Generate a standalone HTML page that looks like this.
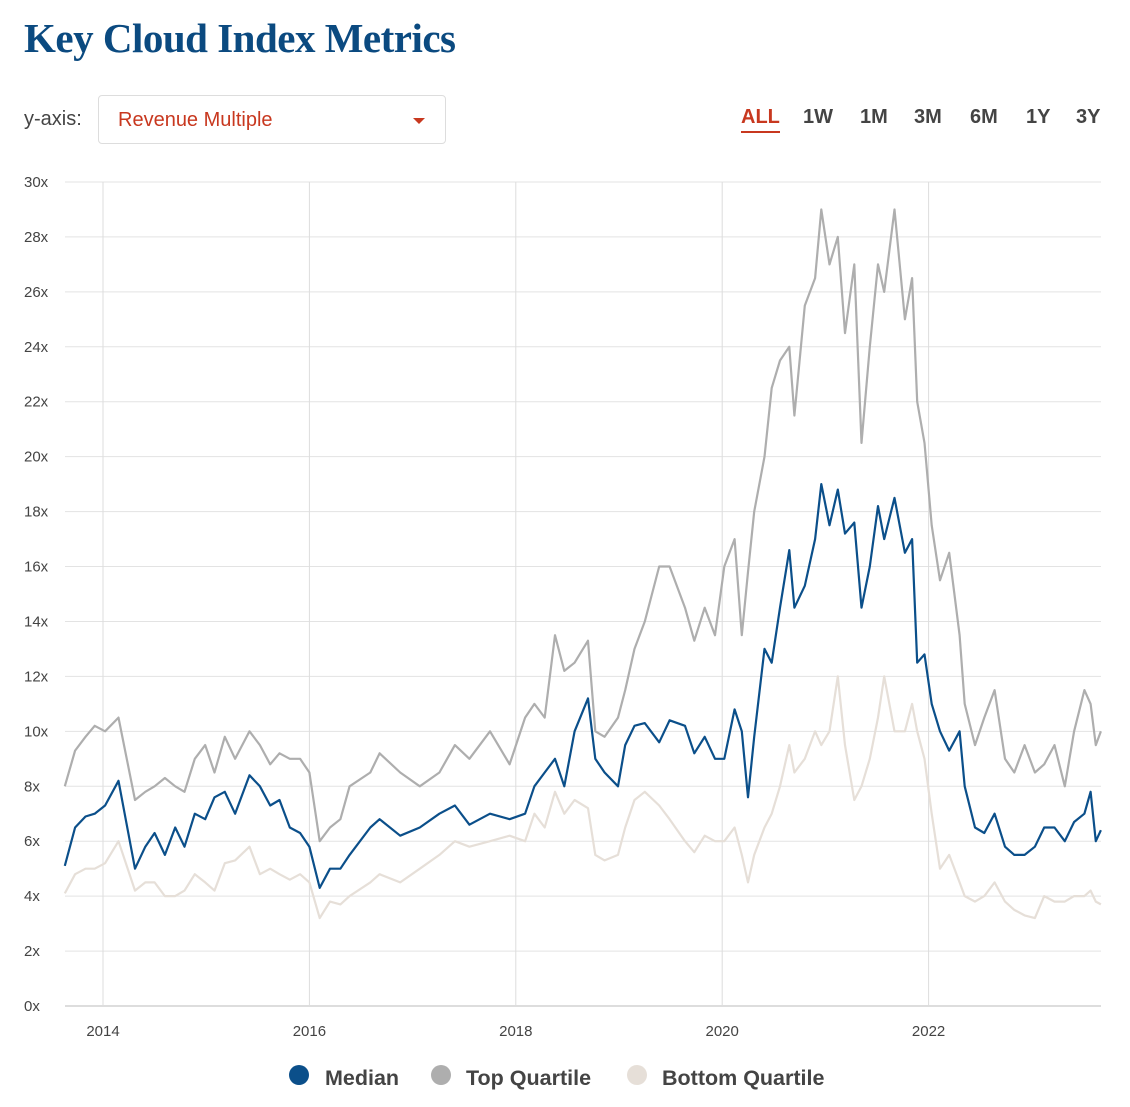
<!DOCTYPE html>
<html><head><meta charset="utf-8"><style>
body{margin:0;background:#fff;width:1130px;height:1107px;overflow:hidden;font-family:"Liberation Sans",sans-serif}
.title{position:absolute;left:24px;top:14px;font-family:"Liberation Serif",serif;font-weight:bold;font-size:41px;color:#0b4a80;letter-spacing:-0.5px}
.yl{position:absolute;left:24px;top:108px;font-size:20px;color:#444}
.dd{position:absolute;left:98px;top:95px;width:348px;height:49px;border:1px solid #ddd;border-radius:4px;box-sizing:border-box}
.dd span{position:absolute;left:19px;top:13px;font-size:20px;color:#c8381f}
.dd i{position:absolute;right:20px;top:22px;border-left:6px solid transparent;border-right:6px solid transparent;border-top:6px solid #c8381f}
.tb{position:absolute;top:106px;font-size:20px;color:#444;font-weight:600}
</style></head><body>
<div class="title">Key Cloud Index Metrics</div>
<div class="yl">y-axis:</div>
<div class="dd"><span>Revenue Multiple</span><i></i></div>
<div class="tb" style="left:741px;color:#c8381f;border-bottom:2px solid #c8381f;padding-bottom:2px">ALL</div>
<div class="tb" style="left:803px">1W</div>
<div class="tb" style="left:860px">1M</div>
<div class="tb" style="left:914px">3M</div>
<div class="tb" style="left:970px">6M</div>
<div class="tb" style="left:1026px">1Y</div>
<div class="tb" style="left:1076px">3Y</div>
<svg id="c" width="1130" height="1107" style="position:absolute;left:0;top:0"></svg>
<script>
const dates=[2013.63,2013.73,2013.83,2013.92,2014.02,2014.15,2014.31,2014.41,2014.5,2014.6,2014.7,2014.79,2014.89,2014.99,2015.08,2015.18,2015.28,2015.42,2015.52,2015.62,2015.71,2015.81,2015.91,2016.0,2016.1,2016.2,2016.3,2016.39,2016.59,2016.68,2016.88,2017.07,2017.26,2017.41,2017.55,2017.75,2017.94,2018.09,2018.18,2018.28,2018.38,2018.47,2018.57,2018.7,2018.77,2018.86,2018.99,2019.06,2019.15,2019.25,2019.39,2019.49,2019.64,2019.73,2019.83,2019.93,2020.02,2020.12,2020.19,2020.25,2020.31,2020.41,2020.48,2020.56,2020.65,2020.7,2020.8,2020.9,2020.96,2021.04,2021.12,2021.19,2021.28,2021.35,2021.43,2021.51,2021.57,2021.67,2021.77,2021.84,2021.89,2021.96,2022.03,2022.11,2022.2,2022.3,2022.35,2022.45,2022.54,2022.64,2022.74,2022.83,2022.93,2023.03,2023.12,2023.22,2023.32,2023.41,2023.51,2023.57,2023.62,2023.67];
const median=[5.1,6.5,6.9,7.0,7.3,8.2,5.0,5.8,6.3,5.5,6.5,5.8,7.0,6.8,7.6,7.8,7.0,8.4,8.0,7.3,7.5,6.5,6.3,5.8,4.3,5.0,5.0,5.5,6.5,6.8,6.2,6.5,7.0,7.3,6.6,7.0,6.8,7.0,8.0,8.5,9.0,8.0,10.0,11.2,9.0,8.5,8.0,9.5,10.2,10.3,9.6,10.4,10.2,9.2,9.8,9.0,9.0,10.8,10.0,7.6,9.8,13.0,12.5,14.5,16.6,14.5,15.3,17.0,19.0,17.5,18.8,17.2,17.6,14.5,16.0,18.2,17.0,18.5,16.5,17.0,12.5,12.8,11.0,10.0,9.3,10.0,8.0,6.5,6.3,7.0,5.8,5.5,5.5,5.8,6.5,6.5,6.0,6.7,7.0,7.8,6.0,6.4];
const topQ=[8.0,9.3,9.8,10.2,10.0,10.5,7.5,7.8,8.0,8.3,8.0,7.8,9.0,9.5,8.5,9.8,9.0,10.0,9.5,8.8,9.2,9.0,9.0,8.5,6.0,6.5,6.8,8.0,8.5,9.2,8.5,8.0,8.5,9.5,9.0,10.0,8.8,10.5,11.0,10.5,13.5,12.2,12.5,13.3,10.0,9.8,10.5,11.5,13.0,14.0,16.0,16.0,14.5,13.3,14.5,13.5,16.0,17.0,13.5,15.8,18.0,20.0,22.5,23.5,24.0,21.5,25.5,26.5,29.0,27.0,28.0,24.5,27.0,20.5,24.0,27.0,26.0,29.0,25.0,26.5,22.0,20.5,17.5,15.5,16.5,13.5,11.0,9.5,10.5,11.5,9.0,8.5,9.5,8.5,8.8,9.5,8.0,10.0,11.5,11.0,9.5,10.0];
const bottomQ=[4.1,4.8,5.0,5.0,5.2,6.0,4.2,4.5,4.5,4.0,4.0,4.2,4.8,4.5,4.2,5.2,5.3,5.8,4.8,5.0,4.8,4.6,4.8,4.5,3.2,3.8,3.7,4.0,4.5,4.8,4.5,5.0,5.5,6.0,5.8,6.0,6.2,6.0,7.0,6.5,7.8,7.0,7.5,7.2,5.5,5.3,5.5,6.5,7.5,7.8,7.3,6.8,6.0,5.6,6.2,6.0,6.0,6.5,5.5,4.5,5.5,6.5,7.0,8.0,9.5,8.5,9.0,10.0,9.5,10.0,12.0,9.5,7.5,8.0,9.0,10.5,12.0,10.0,10.0,11.0,10.0,9.0,7.0,5.0,5.5,4.5,4.0,3.8,4.0,4.5,3.8,3.5,3.3,3.2,4.0,3.8,3.8,4.0,4.0,4.2,3.8,3.7];
const yTicks=[0,2,4,6,8,10,12,14,16,18,20,22,24,26,28,30];
const xTicks=[2014,2016,2018,2020,2022];
const NS="http://www.w3.org/2000/svg",svg=document.getElementById('c');
const X0=65,X1=1101,Y0=1006,Y1=182;
const xs=d=>103+(d-2014)*103.2;
const ys=v=>Y0-(v/30)*(Y0-Y1);
function mk(t,a,p){const e=document.createElementNS(NS,t);for(const k in a)e.setAttribute(k,a[k]);(p||svg).appendChild(e);return e;}
yTicks.forEach(v=>{
 const l=mk('line',{x1:X0,x2:X1,y1:ys(v),y2:ys(v),stroke:v===0?'#bbb':'#e3e3e3','stroke-width':1});
 
 
 const t=mk('text',{x:24,y:ys(v)+5,'font-size':15,fill:'#444','font-family':'Liberation Sans,sans-serif'});
 t.textContent=v+'x';
 
 
});
xTicks.forEach(d=>{
 const l=mk('line',{x1:xs(d),x2:xs(d),y1:Y1,y2:Y0,stroke:'#ddd','stroke-width':1});
 
 
 const t=mk('text',{x:xs(d),y:1036,'font-size':15,fill:'#444','text-anchor':'middle','font-family':'Liberation Sans,sans-serif'});
 t.textContent=d;
 
 
});
function line(arr,col,name){
 const p=mk('path',{d:arr.map((v,i)=>(i?'L':'M')+xs(dates[i]).toFixed(1)+','+ys(v).toFixed(1)).join(''),fill:'none',stroke:col,'stroke-width':2.2,'stroke-linejoin':'round'});
 
 
}
line(bottomQ,'#e6dfd8','bottom-quartile-line');
line(topQ,'#aeaeae','top-quartile-line');
line(median,'#0b4f8a','median-line');
[[299,325,'#0b4f8a','Median','legend-median'],[441,466,'#aeaeae','Top Quartile','legend-top-quartile'],[637,662,'#e6dfd8','Bottom Quartile','legend-bottom-quartile']].forEach(a=>{
 const g=mk('g',{});
 
 
 mk('circle',{cx:a[0],cy:1075,r:10,fill:a[2]},g);
 const t=mk('text',{x:a[1],y:1085,'font-size':21.5,'font-weight':600,fill:'#444','font-family':'Liberation Sans,sans-serif'},g);
 t.textContent=a[3];
});
</script>
</body></html>
